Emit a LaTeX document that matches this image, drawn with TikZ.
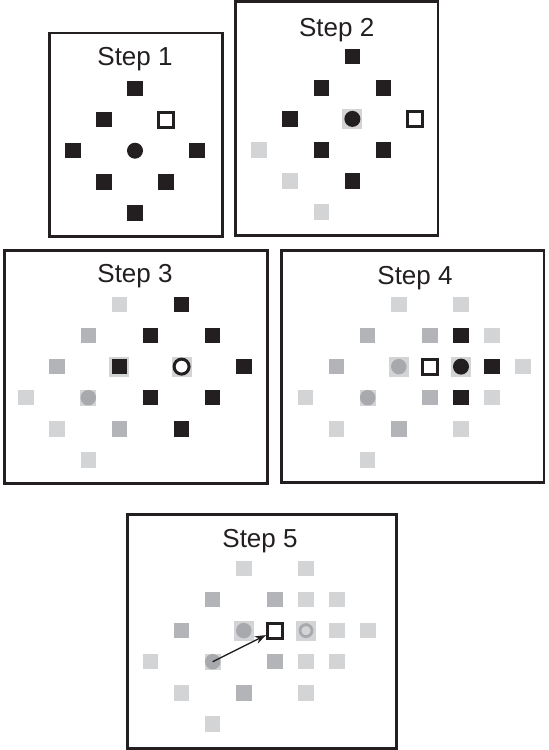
\documentclass[tikz,border=0pt]{standalone}
\usepackage{fontspec}
\setmainfont{Liberation Sans}
\usetikzlibrary{arrows.meta}
\definecolor{ink}{HTML}{231F20}
\definecolor{pale}{HTML}{D3D4D6}
\definecolor{dim}{HTML}{B2B4B7}
\definecolor{dotgrey}{HTML}{A7A9AC}
\tikzset{
  frame/.style={draw=ink, line width=2.6pt},
  title/.style={anchor=base, text=ink, font=\fontsize{26}{30}\selectfont},
  pt/.style={rectangle, minimum size=15.5pt, inner sep=0pt},
  blk/.style={pt, fill=ink},
  pale pt/.style={pt, fill=pale},
  dim pt/.style={pt, fill=dim},
  halo/.style={rectangle, fill=pale, minimum size=20pt, inner sep=0pt},
  small halo/.style={rectangle, fill=pale, minimum size=16pt, inner sep=0pt},
  best/.style={rectangle, draw=ink, fill=white, line width=3pt, minimum size=15pt, inner sep=0pt},
  dot/.style={circle, fill=ink, minimum size=16pt, inner sep=0pt},
  grey dot/.style={circle, fill=dotgrey, minimum size=15.5pt, inner sep=0pt},
  ring/.style={circle, draw=ink, fill=white, line width=3pt, minimum size=15pt, inner sep=0pt},
  grey ring/.style={circle, draw=dotgrey, line width=2.8pt, minimum size=12pt, inner sep=0pt},
}

\begin{document}
\begin{tikzpicture}[x=1pt, y=-1pt]
\useasboundingbox (0,0) rectangle (549,750);
\draw[frame] (49.2,33) rectangle (222.3,236.3); % Step 1 frame
\draw[frame] (235.3,1.3) rectangle (438,235.7); % Step 2 frame
\draw[frame] (4.7,250.3) rectangle (267.3,483.3); % Step 3 frame
\draw[frame] (281.3,250.3) rectangle (544,482.3); % Step 4 frame
\draw[frame] (127.3,514.7) rectangle (396.3,748.3); % Step 5 frame
\node[title] (t1) at (135,65) {Step 1};
\node[title] (t2) at (336.7,36) {Step 2};
\node[title] (t3) at (135,282.7) {Step 3};
\node[title] (t4) at (415,284.3) {Step 4};
\node[title] (t5) at (260,547.7) {Step 5};

%% Step 1: large diamond round the start
\begin{scope}[shift={(135,150.7)}, x=31.1pt, y=31.1pt]
\foreach \a/\b [count=\i] in {0/2,-1/1,-2/0,2/0,-1/-1,1/-1,0/-2}
  \node[blk] (s1b\i) at (\a,\b) {};
\node[best] (s1best) at (1,1) {};
\node[dot] (s1o) at (0,0) {};
\end{scope}

%% Step 2: diamond moved up right
\begin{scope}[shift={(321.3,150)}, x=31.1pt, y=31.1pt]
\foreach \a/\b [count=\i] in {-2/0,-1/-1,0/-2}
  \node[pale pt] (s2l\i) at (\a,\b) {};
\foreach \a/\b [count=\i] in {1/3,0/2,2/2,-1/1,0/0,2/0,1/-1}
  \node[blk] (s2b\i) at (\a,\b) {};
\node[halo] (s2h) at (1,1) {};
\node[dot] (s2c) at (1,1) {};
\node[best] (s2best) at (3,1) {};
\end{scope}

%% Step 3
\begin{scope}[shift={(88.3,397.7)}, x=31.1pt, y=31.1pt]
\foreach \a/\b [count=\i] in {1/3,-2/0,-1/-1,0/-2}
  \node[pale pt] (s3l\i) at (\a,\b) {};
\foreach \a/\b [count=\i] in {0/2,-1/1,1/-1}
  \node[dim pt] (s3m\i) at (\a,\b) {};
\foreach \a/\b [count=\i] in {3/3,2/2,4/2,5/1,2/0,4/0,3/-1}
  \node[blk] (s3b\i) at (\a,\b) {};
\node[small halo] (s3oh) at (0,0) {};
\node[grey dot] (s3o) at (0,0) {};
\node[halo] (s3h1) at (1,1) {};
\node[blk] (s3p) at (1,1) {};
\node[halo] (s3h2) at (3,1) {};
\node[ring] (s3c) at (3,1) {};
\end{scope}

%% Step 4: small diamond
\begin{scope}[shift={(367.7,397.7)}, x=31.1pt, y=31.1pt]
\foreach \a/\b [count=\i] in {1/3,3/3,4/2,5/1,-2/0,4/0,-1/-1,3/-1,0/-2}
  \node[pale pt] (s4l\i) at (\a,\b) {};
\foreach \a/\b [count=\i] in {0/2,2/2,-1/1,2/0,1/-1}
  \node[dim pt] (s4m\i) at (\a,\b) {};
\foreach \a/\b [count=\i] in {3/2,4/1,3/0}
  \node[blk] (s4b\i) at (\a,\b) {};
\node[small halo] (s4oh) at (0,0) {};
\node[grey dot] (s4o) at (0,0) {};
\node[halo] (s4h1) at (1,1) {};
\node[grey dot] (s4p) at (1,1) {};
\node[halo] (s4h2) at (3,1) {};
\node[dot] (s4c) at (3,1) {};
\node[best] (s4best) at (2,1) {};
\end{scope}

%% Step 5: result vector
\begin{scope}[shift={(212.7,661.7)}, x=31.1pt, y=31.1pt]
\foreach \a/\b [count=\i] in {1/3,3/3,3/2,4/2,4/1,5/1,-2/0,3/0,4/0,-1/-1,3/-1,0/-2}
  \node[pale pt] (s5l\i) at (\a,\b) {};
\foreach \a/\b [count=\i] in {0/2,2/2,-1/1,2/0,1/-1}
  \node[dim pt] (s5m\i) at (\a,\b) {};
\node[small halo] (s5oh) at (0,0) {};
\node[grey dot] (s5o) at (0,0) {};
\node[halo] (s5h1) at (1,1) {};
\node[grey dot] (s5p) at (1,1) {};
\node[halo] (s5h2) at (3,1) {};
\node[grey ring] (s5c) at (3,1) {};
\node[best] (s5best) at (2,1) {};
\draw[-{Stealth[length=11pt,width=8pt]}, line width=1.4pt, ink] (s5o.center) -- (s5best); % vector
\end{scope}
\end{tikzpicture}
\end{document}
